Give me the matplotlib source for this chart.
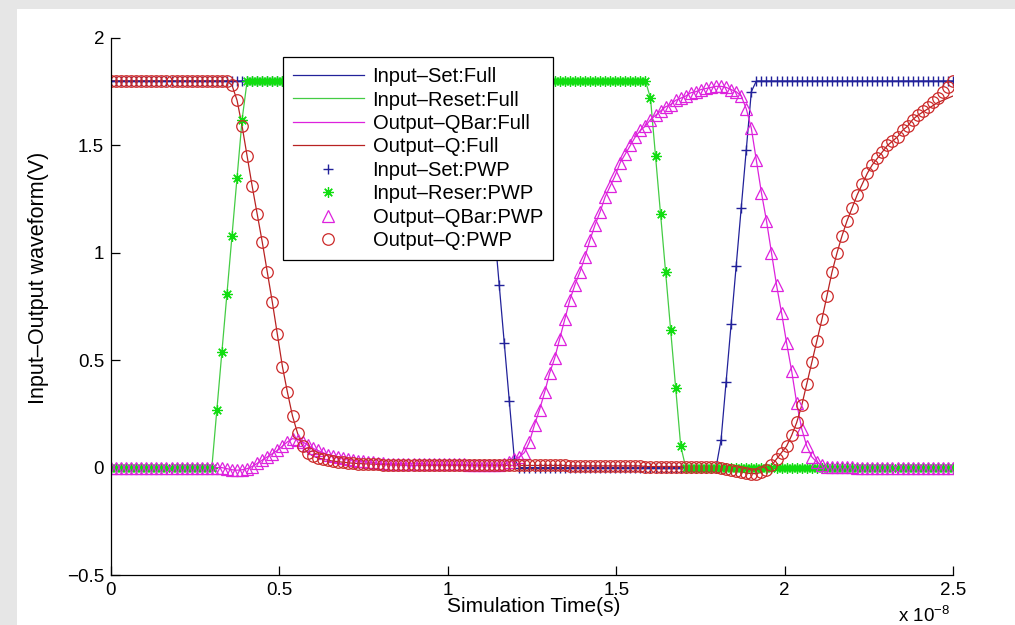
import numpy as np
import matplotlib
matplotlib.use("Agg")
import matplotlib.pyplot as plt
from matplotlib.patches import Rectangle

plt.rcParams['font.family'] = ['Liberation Sans', 'DejaVu Sans']

# sample times, in units of 1e-8 s (168 samples from 0 to 2.5)
t = np.linspace(0, 2.5, 168)

# Input-Set (V)
set_pwp = ([1.8] * 74
           + [1.66, 1.39, 1.12, 0.85, 0.58, 0.31, 0.04]
           + [0.0] * 40
           + [0.13, 0.40, 0.67, 0.94, 1.21, 1.48, 1.75]
           + [1.8] * 40)

# Input-Reset (V)
reset_pwp = ([0.0] * 21
             + [0.27, 0.54, 0.81, 1.08, 1.35, 1.62]
             + [1.8] * 80
             + [1.72, 1.45, 1.18, 0.91, 0.64, 0.37, 0.10]
             + [0.0] * 54)

# Output-Q (V)
q_fall = [1.78, 1.71, 1.59, 1.45, 1.31, 1.18, 1.05, 0.91, 0.77, 0.62,
          0.47, 0.35, 0.24, 0.16, 0.10]
q_settle = [0.07, 0.055, 0.045, 0.04, 0.035, 0.03, 0.028, 0.025, 0.023, 0.02,
            0.019, 0.018, 0.017, 0.016, 0.015, 0.014, 0.013, 0.012, 0.012,
            0.011, 0.011, 0.01]
q_dip = [0.003, 0.0, -0.005, -0.01, -0.015, -0.02, -0.025, -0.028, -0.028,
         -0.022, -0.01, 0.01]
q_rise = [0.04, 0.07, 0.10, 0.15, 0.21, 0.29, 0.39, 0.49, 0.59, 0.69,
          0.80, 0.91, 1.00, 1.08, 1.15, 1.21, 1.27, 1.32, 1.37, 1.41,
          1.44, 1.47, 1.50, 1.52, 1.54, 1.57, 1.59, 1.62, 1.64, 1.66,
          1.68, 1.70, 1.72, 1.75, 1.77, 1.80]
q_pwp = ([1.8] * 24 + q_fall + q_settle
         + [0.01] * 30 + [0.008] * 15 + [0.005] * 14
         + q_dip + q_rise)
q_full_tail = [1.655, 1.67, 1.685, 1.70, 1.71, 1.72, 1.73]
q_full = q_pwp[:161] + q_full_tail

# Output-QBar (V)
qbar_dip = [-0.005, -0.01, -0.012, -0.01, -0.005]
qbar_bump = [0.005, 0.02, 0.035, 0.05, 0.065, 0.08, 0.10, 0.12, 0.135, 0.13,
             0.12, 0.105, 0.09, 0.08, 0.07, 0.06, 0.055, 0.05, 0.045, 0.04,
             0.035, 0.03, 0.03, 0.025, 0.025, 0.02, 0.02]
qbar_pulse = [0.015, 0.025, 0.04, 0.05, 0.07, 0.12, 0.20, 0.27, 0.35, 0.44,
              0.51, 0.60, 0.69, 0.78, 0.85, 0.91, 0.98, 1.06, 1.13, 1.19,
              1.26, 1.31, 1.36, 1.42, 1.46, 1.50, 1.54, 1.57, 1.59, 1.62,
              1.64, 1.66, 1.68, 1.69, 1.71, 1.72, 1.73, 1.745, 1.75, 1.76,
              1.765, 1.77, 1.775, 1.775, 1.77, 1.76, 1.75, 1.73, 1.67, 1.58,
              1.43, 1.28, 1.15, 1.00, 0.85, 0.72, 0.58, 0.45, 0.30, 0.18,
              0.10, 0.05, 0.025, 0.012]
qbar_pwp = ([0.0] * 23 + qbar_dip + qbar_bump
            + [0.018] * 8 + [0.015] * 8 + [0.012] * 7
            + qbar_pulse + [0.005] * 6 + [0.0] * 20)

c_set = '#22229a'
c_reset_line = '#44cc44'
c_reset_mk = '#10dd10'
c_qbar = '#dd22dd'
c_q_line = '#b82222'
c_q_mk = '#cc2a2a'

fig = plt.figure(figsize=(10.15, 6.25), dpi=100, facecolor='#e6e6e6')
fig.add_artist(Rectangle((17 / 1015, 0), 1, 1 - 9 / 625, transform=fig.transFigure,
                         facecolor='white', edgecolor='none', zorder=0))
ax = fig.add_axes([111 / 1015, 50 / 625, 842 / 1015, 537 / 625])
ax.set_facecolor('none')

lw = 0.9
ax.plot(t, set_pwp, color=c_set, lw=lw, label='Input–Set:Full')
ax.plot(t, reset_pwp, color=c_reset_line, lw=lw, label='Input–Reset:Full')
ax.plot(t, qbar_pwp, color=c_qbar, lw=lw, label='Output–QBar:Full')
ax.plot(t, q_full, color=c_q_line, lw=lw, label='Output–Q:Full')

ax.plot(t, set_pwp, ls='None', marker='+', ms=7.5, mew=1.0, color=c_set,
        label='Input–Set:PWP')
ax.plot(t, reset_pwp, ls='None', marker=(8, 2, 0), ms=7.5, mew=0.9, color=c_reset_mk,
        label='Input–Reser:PWP')
ax.plot(t, qbar_pwp, ls='None', marker='^', ms=8.5, mew=0.9, mfc='none', color=c_qbar,
        label='Output–QBar:PWP')
ax.plot(t, q_pwp, ls='None', marker='o', ms=8.3, mew=0.9, mfc='none', color=c_q_mk,
        label='Output–Q:PWP')

ax.set_xlim(0, 2.5)
ax.set_ylim(-0.5, 2)
ax.set_xticks([0, 0.5, 1, 1.5, 2, 2.5])
ax.set_xticklabels(['0', '0.5', '1', '1.5', '2', '2.5'])
ax.set_yticks([-0.5, 0, 0.5, 1, 1.5, 2])
ax.set_yticklabels(['\u22120.5', '0', '0.5', '1', '1.5', '2'])
for s in ['top', 'right']:
    ax.spines[s].set_visible(False)
for s in ['left', 'bottom']:
    ax.spines[s].set_linewidth(0.9)
ax.tick_params(direction='in', length=6.5, width=0.9, labelsize=13.5)
ax.tick_params(axis='x', pad=5)
ax.tick_params(axis='y', pad=5)

fig.text(534 / 1015, 1 - 606 / 625, 'Simulation Time(s)', ha='center', va='center',
         fontsize=15)
fig.text(39 / 1015, 1 - 278 / 625, 'Input–Output waveform(V)', ha='center',
         va='center', rotation=90, fontsize=15.5)
fig.text(898 / 1015, 1 - 622 / 625, 'x 10$^{\\mathregular{-8}}$', ha='left',
         va='baseline', fontsize=13.5)

leg = ax.legend(loc='upper left', bbox_to_anchor=((283 - 111) / 842, (575 - 57) / 537),
                borderaxespad=0, fancybox=False, framealpha=1, edgecolor='black',
                fontsize=14.5, handlelength=3.5, handletextpad=0.45, labelspacing=0.22,
                borderpad=0.5, numpoints=1)
leg.get_frame().set_linewidth(0.9)

fig.savefig('out.png', dpi=100, facecolor=fig.get_facecolor())
